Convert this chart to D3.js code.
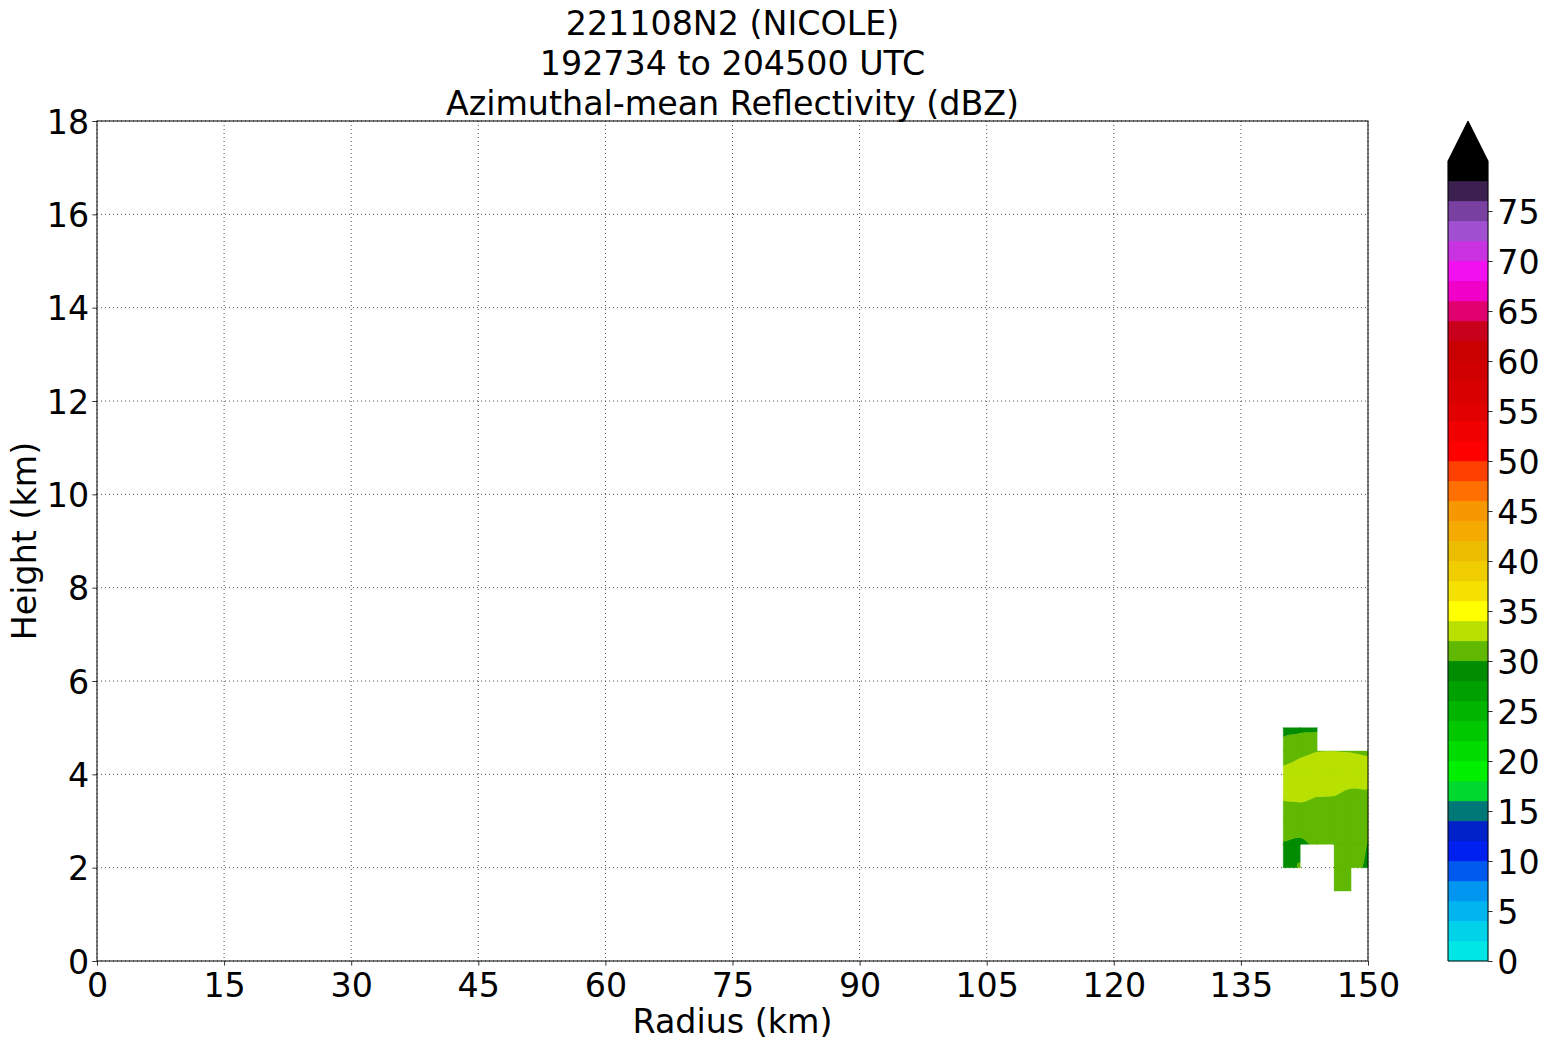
<!DOCTYPE html>
<html>
<head>
<meta charset="utf-8">
<script src="https://cdn.jsdelivr.net/npm/d3@7"></script>
<style>
  html, body { margin: 0; padding: 0; background: #fff; }
  svg { display: block; font-family: "DejaVu Sans", sans-serif; }
</style>
</head>
<body>
<svg id="chart" width="1548" height="1045"></svg>
<script>
// ---------------- data ----------------
const titleLines = ["221108N2 (NICOLE)", "192734 to 204500 UTC", "Azimuthal-mean Reflectivity (dBZ)"];
const xLabel = "Radius (km)";
const yLabel = "Height (km)";
const xTicks = [0, 15, 30, 45, 60, 75, 90, 105, 120, 135, 150];
const yTicks = [0, 2, 4, 6, 8, 10, 12, 14, 16, 18];
const cbTicks = [0, 5, 10, 15, 20, 25, 30, 35, 40, 45, 50, 55, 60, 65, 70, 75];

// grid of azimuthal-mean reflectivity (dBZ); null = no data
const radii = [140, 142, 144, 146, 148, 150];
const heights = [1.5, 2.0, 2.5, 3.0, 3.5, 4.0, 4.5, 5.0];
const refl = [
  [null, null, null, 30.5, 30.3, null],   // 1.5 km
  [29.3, 30.15, null, 30.6, 30.4, 29.78], // 2.0 km
  [29.85, 29.5, 30.4, 30.8, 30.7, 29.95], // 2.5 km
  [31.0, 31.2, 31.3, 31.4, 31.0, 30.8],   // 3.0 km
  [32.15, 32.2, 31.95, 31.9, 31.2, 31.5], // 3.5 km
  [32.6, 32.9, 33.2, 33.3, 33.2, 32.9],   // 4.0 km
  [30.9, 31.6, 31.95, 31.98, 31.9, 31.7], // 4.5 km
  [29.4, 29.5, 29.55, null, null, null]   // 5.0 km
];

// contour levels (dBZ) and fill colours (one per band, last = over 80)
const levels = d3.range(0, 81, 2);
const bandColors = [
  "#00e6e6", "#00d2ea", "#00b4f0", "#0096f0", "#005af0", "#0020f0", "#0020c8", "#007878",
  "#00d830", "#00f000", "#00dc00", "#00c800", "#00b400", "#00a000", "#008c00", "#60b800",
  "#b8e000", "#ffff00", "#f5e100", "#f0cd00", "#ecbc00", "#f4aa00", "#f89800", "#ff7000",
  "#ff4000", "#ff0000", "#f00000", "#e00000", "#d80000", "#d00000", "#c80000", "#c8001c",
  "#e00070", "#f000c8", "#f010f0", "#c832e0", "#a050d0", "#7840a0", "#3c2050", "#000000"
];
const overColor = "#000000";

// ---------------- layout ----------------
const svg = d3.select("#chart");
const plot = { left: 97, right: 1368, top: 121, bottom: 961 };
const fs = 33.3;
const tickLen = 4.67, tickPad = 4.67;

const x = d3.scaleLinear().domain([0, 150]).range([plot.left, plot.right]);
const y = d3.scaleLinear().domain([0, 18]).range([plot.bottom, plot.top]);

// grid lines
const grid = svg.append("g").attr("stroke", "#3a3a3a").attr("stroke-width", 0.9)
  .attr("stroke-dasharray", "1,3");
xTicks.forEach(t => grid.append("line").attr("x1", x(t)).attr("x2", x(t))
  .attr("y1", plot.top).attr("y2", plot.bottom));
yTicks.forEach(t => grid.append("line").attr("y1", y(t)).attr("y2", y(t))
  .attr("x1", plot.left).attr("x2", plot.right));

// ---------------- filled contours ----------------
function clip(poly, lev, keepAbove) {
  const out = [];
  const inside = p => keepAbove ? p[2] >= lev : p[2] <= lev;
  for (let i = 0; i < poly.length; i++) {
    const a = poly[i], b = poly[(i + 1) % poly.length];
    const ia = inside(a), ib = inside(b);
    if (ia) out.push(a);
    if (ia !== ib) {
      const t = (lev - a[2]) / (b[2] - a[2]);
      out.push([a[0] + t * (b[0] - a[0]), a[1] + t * (b[1] - a[1]), lev]);
    }
  }
  return out;
}
const bandPaths = bandColors.map(() => d3.path());
const overPath = d3.path();
for (let j = 0; j < heights.length - 1; j++) {
  for (let i = 0; i < radii.length - 1; i++) {
    const c = [[i, j], [i + 1, j], [i + 1, j + 1], [i, j + 1]].map(([ii, jj]) =>
      [radii[ii], heights[jj], refl[jj][ii]]);
    if (c.some(p => p[2] === null)) continue;
    const ctr = [d3.mean(c, p => p[0]), d3.mean(c, p => p[1]), d3.mean(c, p => p[2])];
    for (let k = 0; k < 4; k++) {
      const tri = [c[k], c[(k + 1) % 4], ctr];
      for (let b = 0; b <= bandColors.length; b++) {
        const lo = levels[b];
        const hi = b < bandColors.length ? levels[b + 1] : Infinity;
        let poly = clip(tri, lo, true);
        if (poly.length < 3) continue;
        if (hi !== Infinity) poly = clip(poly, hi, false);
        if (poly.length < 3) continue;
        const path = b < bandColors.length ? bandPaths[b] : overPath;
        poly.forEach((p, n) => n === 0 ? path.moveTo(x(p[0]), y(p[1])) : path.lineTo(x(p[0]), y(p[1])));
        path.closePath();
      }
    }
  }
}
const cont = svg.append("g");
bandPaths.forEach((p, b) => {
  const d = p.toString();
  if (d) cont.append("path").attr("d", d).attr("fill", bandColors[b])
    .attr("stroke", bandColors[b]).attr("stroke-width", 0.4);
});
if (overPath.toString()) cont.append("path").attr("d", overPath.toString()).attr("fill", overColor);

// ---------------- axes ----------------
const xAxis = svg.append("g").attr("transform", `translate(0,${plot.bottom})`)
  .call(d3.axisBottom(x).tickValues(xTicks).tickFormat(d3.format("d"))
    .tickSize(tickLen).tickPadding(tickPad));
const yAxis = svg.append("g").attr("transform", `translate(${plot.left},0)`)
  .call(d3.axisLeft(y).tickValues(yTicks).tickFormat(d3.format("d"))
    .tickSize(tickLen).tickPadding(tickPad - 1.5));
[xAxis, yAxis].forEach(g => {
  g.select(".domain").remove();
  g.selectAll("line").attr("stroke", "#000").attr("stroke-width", 0.8);
  g.selectAll("text").attr("font-size", fs).attr("font-family", "DejaVu Sans").attr("fill", "#000");
});
xAxis.selectAll("text").attr("dy", "0.8em");
yAxis.selectAll("text").attr("dy", "0.36em");

svg.append("rect").attr("x", plot.left).attr("y", plot.top)
  .attr("width", plot.right - plot.left).attr("height", plot.bottom - plot.top)
  .attr("fill", "none").attr("stroke", "#000").attr("stroke-width", 1);

// labels
svg.append("text").attr("x", (plot.left + plot.right) / 2).attr("y", 1033)
  .attr("text-anchor", "middle").attr("font-size", fs).text(xLabel);
svg.append("text").attr("transform", `translate(36,${(plot.top + plot.bottom) / 2}) rotate(-90)`)
  .attr("text-anchor", "middle").attr("font-size", fs).text(yLabel);

// title
const title = svg.append("text").attr("text-anchor", "middle").attr("font-size", fs);
titleLines.forEach((t, i) => title.append("tspan")
  .attr("x", (plot.left + plot.right) / 2).attr("y", 34.5 + i * 40).text(t));

// ---------------- colorbar ----------------
const cb = { left: 1448, right: 1488, top: 161, bottom: 961, tip: 121 };
const cy = d3.scaleLinear().domain([0, 80]).range([cb.bottom, cb.top]);
const cbg = svg.append("g");
bandColors.forEach((col, b) => {
  cbg.append("rect").attr("x", cb.left).attr("width", cb.right - cb.left)
    .attr("y", cy(levels[b + 1])).attr("height", cy(levels[b]) - cy(levels[b + 1]))
    .attr("fill", col).attr("stroke", col).attr("stroke-width", 0.3);
});
const mid = (cb.left + cb.right) / 2;
cbg.append("path")
  .attr("d", `M${cb.left},${cb.top}L${mid},${cb.tip}L${cb.right},${cb.top}Z`)
  .attr("fill", overColor);
cbg.append("path")
  .attr("d", `M${cb.left},${cb.bottom}L${cb.left},${cb.top}L${mid},${cb.tip}L${cb.right},${cb.top}L${cb.right},${cb.bottom}Z`)
  .attr("fill", "none").attr("stroke", "#000").attr("stroke-width", 1);
const cbAxis = svg.append("g").attr("transform", `translate(${cb.right},0)`)
  .call(d3.axisRight(cy).tickValues(cbTicks).tickFormat(d3.format("d"))
    .tickSize(tickLen).tickPadding(tickPad));
cbAxis.select(".domain").remove();
cbAxis.selectAll("line").attr("stroke", "#000").attr("stroke-width", 0.8);
cbAxis.selectAll("text").attr("font-size", fs).attr("font-family", "DejaVu Sans")
  .attr("fill", "#000").attr("dy", "0.36em");
</script>
</body>
</html>
